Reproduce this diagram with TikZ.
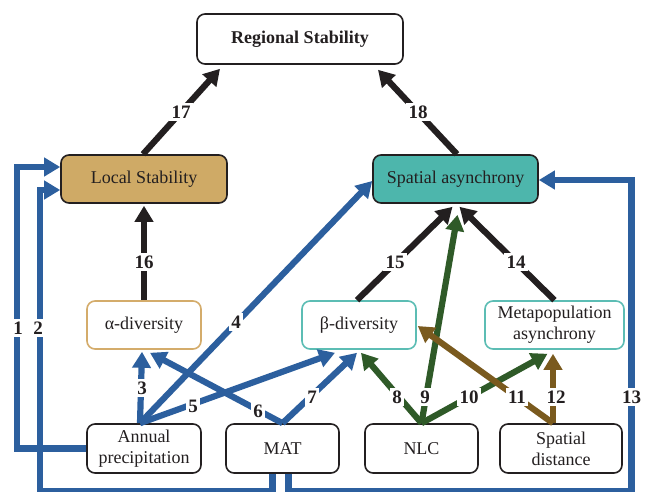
\documentclass[tikz,border=0pt]{standalone}
\usepackage{fontspec}
\setmainfont{Liberation Serif}
\usetikzlibrary{arrows.meta}
\definecolor{cblue}{HTML}{2C5F9E}
\definecolor{cgreen}{HTML}{2F5A28}
\definecolor{cbrown}{HTML}{7A5A1E}
\definecolor{cblack}{HTML}{231F20}
\definecolor{tanfill}{HTML}{CFAA66}
\definecolor{tanline}{HTML}{D4AC6B}
\definecolor{tealfill}{HTML}{4DB6AC}
\definecolor{tealline}{HTML}{5CBDB4}
\begin{document}
\begin{tikzpicture}[x=1pt,y=-1pt,
  box/.style={draw=cblack, line width=1.6pt, rounded corners=8pt, inner sep=0pt,
    align=center, font=\fontsize{18}{21}\selectfont, text=cblack},
  conn/.style={line width=6.2pt, -{Triangle[length=16pt,width=18pt]}},
  kblack/.style={conn, draw=cblack},
  kblue/.style={conn, draw=cblue},
  kgreen/.style={conn, draw=cgreen},
  kbrown/.style={conn, draw=cbrown},
  lab/.style={fill=white, inner sep=2.4pt, font=\bfseries\fontsize{19}{21}\selectfont, text=cblack}
]
\useasboundingbox (0,0) rectangle (646,492);
\fill[white] (0,0) rectangle (646,492);

% nodes
\node[box, minimum width=206pt, minimum height=50pt, font=\bfseries\fontsize{18}{21}\selectfont] (rs) at (300,39) {Regional Stability};
\node[box, fill=tanfill, minimum width=166pt, minimum height=48pt] (ls) at (144,179) {Local Stability};
\node[box, fill=tealfill, minimum width=165pt, minimum height=48pt] (sa) at (455.5,179) {Spatial asynchrony};
\node[box, draw=tanline, minimum width=114pt, minimum height=48pt] (al) at (144,325) {α-diversity};
\node[box, draw=tealline, minimum width=114pt, minimum height=48pt] (bd) at (359,325) {β-diversity};
\node[box, draw=tealline, minimum width=139pt, minimum height=48pt] (mp) at (554.5,325) {Metapopulation\\asynchrony};
\node[box, minimum width=114pt, minimum height=49pt] (ap) at (144,448.5) {Annual\\precipitation};
\node[box, minimum width=113pt, minimum height=49pt] (mat) at (282.5,448.5) {MAT};
\node[box, minimum width=113pt, minimum height=49pt] (nlc) at (421.5,448.5) {NLC};
\node[box, minimum width=122pt, minimum height=49pt] (sd) at (561,448.5) {Spatial\\distance};

% blue routed connectors
\draw[kblue] (ap.west) -- ++(-69,0) |- ([yshift=12pt]ls.west);
\draw[kblue] ([xshift=-10pt]mat.south) -- ++(0,17) -- ++(-232.5,0) |- ([yshift=-11pt]ls.west);
\draw[kblue] ([xshift=6pt]mat.south) -- ++(0,17) -- ++(343,0) |- ([yshift=-1pt]sa.east);

% straight connectors
\draw[kblue] ([xshift=-4pt]ap.north) -- ([xshift=-2pt,yshift=-2pt]al.south);
\draw[kblue] ([xshift=-4pt]ap.north) -- ([yshift=-2pt]sa.west);
\draw[kblue] ([xshift=-4pt]ap.north) -- ([xshift=-24pt,yshift=-3pt]bd.south);
\draw[kblue] (mat.north) -- ([xshift=6pt,yshift=-3pt]al.south);
\draw[kblue] (mat.north) -- ([xshift=-2pt,yshift=-3pt]bd.south);
\draw[kgreen] (nlc.north) -- ([xshift=2pt,yshift=-3pt]bd.south);
\draw[kgreen] (nlc.north) -- ([xshift=2pt,yshift=-11pt]sa.south);
\draw[kgreen] (nlc.north) -- ([xshift=-7pt,yshift=-4pt]mp.south);
\draw[kbrown] ([xshift=-8pt]sd.north) -- ([yshift=-1pt,xshift=1pt]bd.east);
\draw[kbrown] ([xshift=-8pt]sd.north) -- ([xshift=-1.5pt,yshift=-4pt]mp.south);
\draw[kblack] (mp.north) -- ([xshift=4pt,yshift=-3pt]sa.south);
\draw[kblack] ([xshift=-2pt]bd.north) -- ([xshift=-3pt,yshift=-3pt]sa.south);
\draw[kblack] (al.north) -- ([yshift=-2pt]ls.south);
\draw[kblack] ([xshift=-1pt]ls.north) -- ([xshift=-80pt,yshift=-4pt]rs.south);
\draw[kblack] ([xshift=1.5pt]sa.north) -- ([xshift=78pt,yshift=-5pt]rs.south);

% labels
\node[lab] (l1) at (18,328) {1};
\node[lab] (l2) at (38,328) {2};
\node[lab] (l3) at (142,388) {3};
\node[lab] (l4) at (236,322) {4};
\node[lab] (l5) at (193,406) {5};
\node[lab] (l6) at (258,411) {6};
\node[lab] (l7) at (312,397) {7};
\node[lab] (l8) at (397,397) {8};
\node[lab] (l9) at (425,397) {9};
\node[lab] (l10) at (469,397) {10};
\node[lab] (l11) at (517,397) {11};
\node[lab] (l12) at (556,397) {12};
\node[lab] (l13) at (631.5,397) {13};
\node[lab] (l14) at (516,262) {14};
\node[lab] (l15) at (395,262) {15};
\node[lab] (l16) at (144,262) {16};
\node[lab] (l17) at (181,112) {17};
\node[lab] (l18) at (418,112) {18};
\end{tikzpicture}
\end{document}
